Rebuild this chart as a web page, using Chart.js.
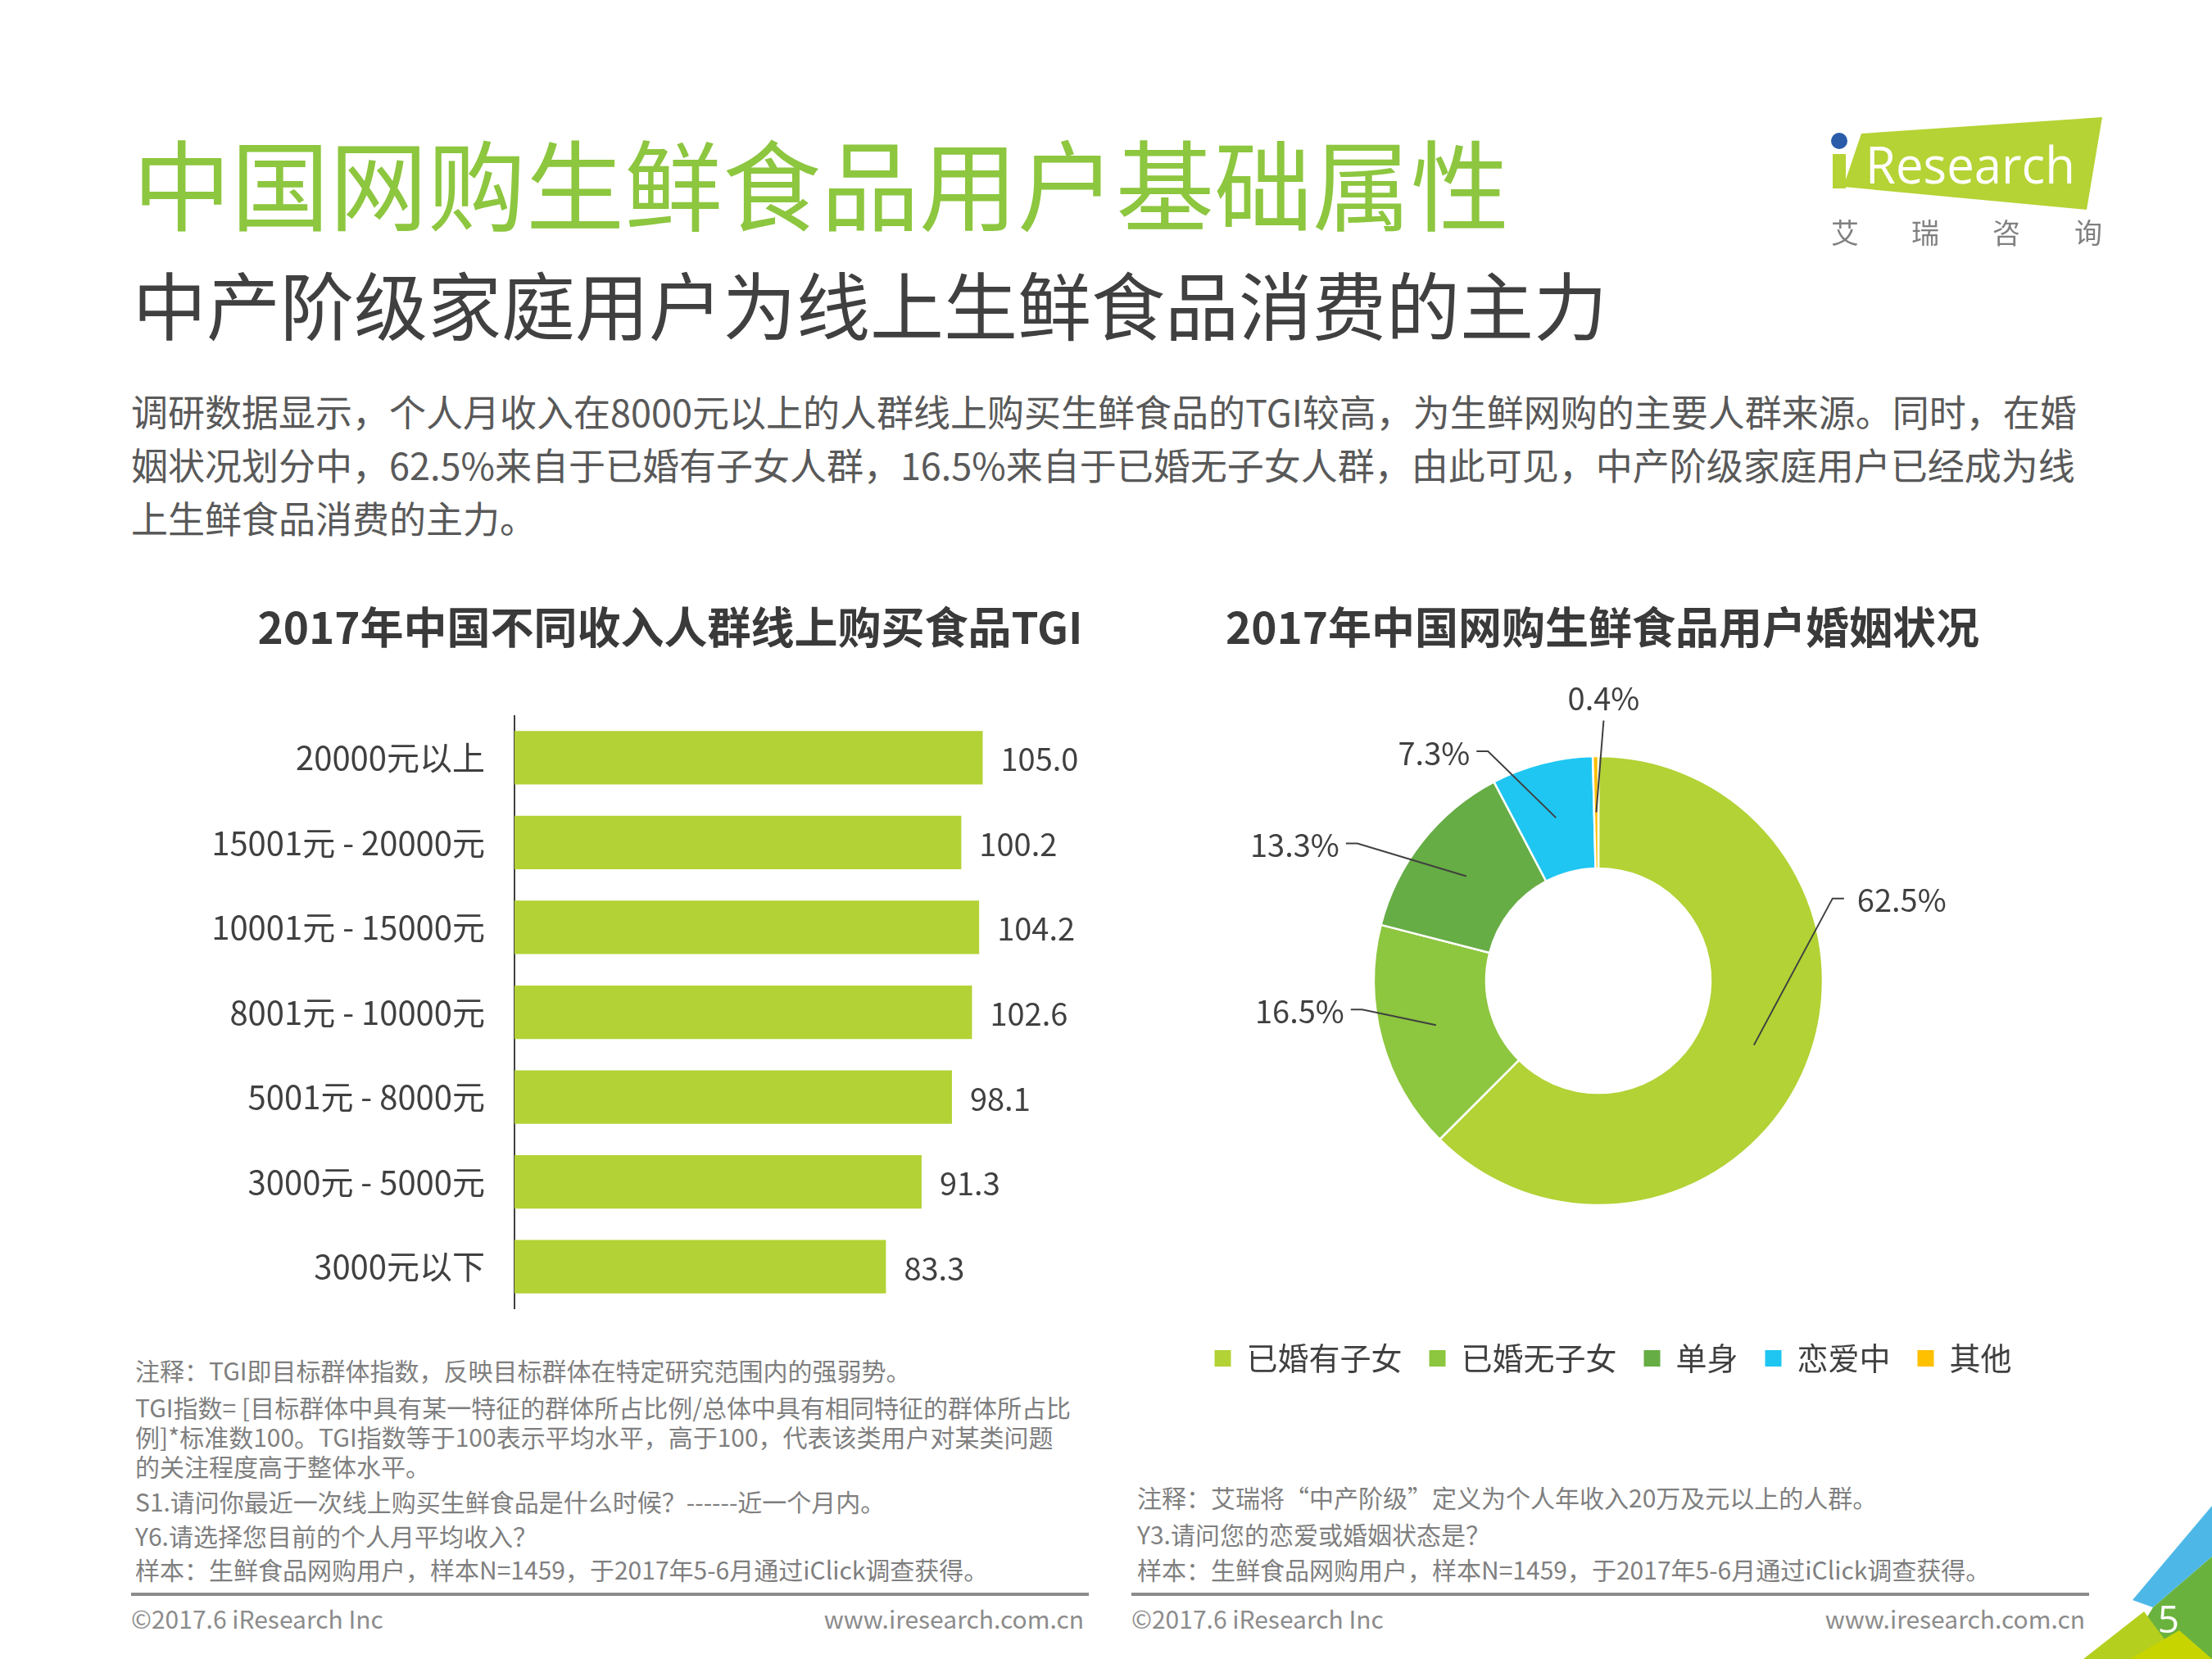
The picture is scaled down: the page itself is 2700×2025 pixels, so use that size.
<!DOCTYPE html>
<html lang="zh-CN">
<head>
<meta charset="utf-8">
<title>中国网购生鲜食品用户基础属性</title>
<script src="https://cdn.jsdelivr.net/npm/chart.js@4.4.1/dist/chart.umd.min.js"></script>
<style>
  html, body { margin: 0; padding: 0; background: #fff; }
  body { width: 2700px; height: 2025px; position: relative; overflow: hidden;
         font-family: "Noto Sans CJK SC", "Noto Sans", sans-serif; }
  .t { position: absolute; white-space: nowrap; line-height: 1; }
  #title { left: 162px; top: 161px; font-size: 120px; color: #8DC63F; }
  #subtitle { left: 162px; top: 324px; font-size: 90px; color: #404040; }
  #intro { position: absolute; left: 160px; top: 469px; font-size: 45px; line-height: 65px; color: #595959; white-space: nowrap; }
  .ctitle { position: absolute; top: 737px; width: 1200px; text-align: center; font-size: 53px; font-weight: bold; color: #3a3a3a; line-height: 1; white-space: nowrap; }
  .note { position: absolute; font-size: 30px; color: #7f7f7f; white-space: nowrap; line-height: 1; }
  .rule { position: absolute; top: 1944px; height: 4px; background: #8c8c8c; }
  canvas { position: absolute; }
  #deco { position: absolute; left: 0; top: 0; pointer-events: none; }
</style>
</head>
<body>

<div class="t" id="title">中国网购生鲜食品用户基础属性</div>
<div class="t" id="subtitle">中产阶级家庭用户为线上生鲜食品消费的主力</div>
<div id="intro">调研数据显示，个人月收入在8000元以上的人群线上购买生鲜食品的TGI较高，为生鲜网购的主要人群来源。同时，在婚<br>姻状况划分中，62.5%来自于已婚有子女人群，16.5%来自于已婚无子女人群，由此可见，中产阶级家庭用户已经成为线<br>上生鲜食品消费的主力。</div>

<div class="ctitle" style="left:218px">2017年中国不同收入人群线上购买食品TGI</div>
<div class="ctitle" style="left:1356px">2017年中国网购生鲜食品用户婚姻状况</div>

<canvas id="tgiChart" width="1240" height="725" style="left:150px; top:873px"></canvas>
<canvas id="maritalChart" width="1300" height="899" style="left:1301px; top:788px"></canvas>

<div class="note" style="left:165px; top:1657px">注释：TGI即目标群体指数，反映目标群体在特定研究范围内的强弱势。</div>
<div class="note" style="left:165px; top:1702px">TGI指数= [目标群体中具有某一特征的群体所占比例/总体中具有相同特征的群体所占比</div>
<div class="note" style="left:165px; top:1738px">例]*标准数100。TGI指数等于100表示平均水平，高于100，代表该类用户对某类问题</div>
<div class="note" style="left:165px; top:1774px">的关注程度高于整体水平。</div>
<div class="note" style="left:165px; top:1817px">S1.请问你最近一次线上购买生鲜食品是什么时候？------近一个月内。</div>
<div class="note" style="left:165px; top:1859px">Y6.请选择您目前的个人月平均收入？</div>
<div class="note" style="left:165px; top:1900px">样本：生鲜食品网购用户，样本N=1459，于2017年5-6月通过iClick调查获得。</div>

<div class="note" style="left:1388px; top:1812px">注释：艾瑞将“中产阶级”定义为个人年收入20万及元以上的人群。</div>
<div class="note" style="left:1388px; top:1857px">Y3.请问您的恋爱或婚姻状态是？</div>
<div class="note" style="left:1388px; top:1900px">样本：生鲜食品网购用户，样本N=1459，于2017年5-6月通过iClick调查获得。</div>

<div class="rule" style="left:160px; width:1169px"></div>
<div class="rule" style="left:1381px; width:1169px"></div>

<div class="note" style="left:160px; top:1960px; color:#8c8c8c">©2017.6 iResearch Inc</div>
<div class="note" style="left:823px; top:1960px; width:500px; text-align:right; color:#8c8c8c">www.iresearch.com.cn</div>
<div class="note" style="left:1381px; top:1960px; color:#8c8c8c">©2017.6 iResearch Inc</div>
<div class="note" style="left:2045px; top:1960px; width:500px; text-align:right; color:#8c8c8c">www.iresearch.com.cn</div>

<svg id="deco" width="2700" height="2025">
  <!-- logo -->
  <polygon points="2272,163 2566,143 2547,256 2250,228" fill="#B5D334"/>
  <rect x="2237" y="188" width="16" height="42" fill="#B5D334"/>
  <circle cx="2245" cy="172" r="10" fill="#2A5CAA"/>
  <text x="2277" y="224" font-family="Open Sans, Noto Sans, sans-serif" font-size="62" fill="#fff" textLength="256" lengthAdjust="spacingAndGlyphs">Research</text>
  <g font-family="Noto Sans CJK SC, sans-serif" font-size="34" fill="#808080" text-anchor="middle">
    <text x="2252" y="297">艾</text>
    <text x="2350" y="297">瑞</text>
    <text x="2449" y="297">咨</text>
    <text x="2549" y="297">询</text>
  </g>
  <!-- page corner -->
  <polygon points="2700,1838 2700,1900 2628,1962 2603,1953" fill="#4DB8E8"/>
  <polygon points="2700,1900 2700,2025 2590,2025 2628,1962" fill="#6AB23E"/>
  <polygon points="2543,2025 2617,1967 2660,2025" fill="#B5CF1E"/>
  <polygon points="2600,2025 2660,1990 2700,2025" fill="#C8D400"/>
  <text x="2647" y="1993" font-family="Open Sans, Noto Sans, sans-serif" font-size="46" fill="#fff" text-anchor="middle">5</text>
</svg>

<script>
// income groups (top to bottom) and their TGI
const incomeLabels = ['20000元以上', '15001元 - 20000元', '10001元 - 15000元', '8001元 - 10000元', '5001元 - 8000元', '3000元 - 5000元', '3000元以下'];
const tgiValues = [105.0, 100.2, 104.2, 102.6, 98.1, 91.3, 83.3];

// marital status shares (%)
const maritalLabels = ['已婚有子女', '已婚无子女', '单身', '恋爱中', '其他'];
const maritalShares = [62.5, 16.5, 13.3, 7.3, 0.4];
const maritalColors = ['#B2D235', '#8DC63F', '#66AD45', '#1FC6F2', '#FFC000'];

const FONT = '"Noto Sans CJK SC", "Noto Sans", sans-serif';
const TEXT = '#404040';
Chart.defaults.font.family = FONT;

// value labels at the end of each bar
const barValues = {
    id: 'barValues',
    afterDatasetsDraw(chart) {
        const ctx = chart.ctx;
        const meta = chart.getDatasetMeta(0);
        ctx.save();
        ctx.font = '38px ' + FONT;
        ctx.fillStyle = TEXT;
        ctx.textAlign = 'left';
        ctx.textBaseline = 'middle';
        meta.data.forEach((bar, i) => {
            ctx.fillText(tgiValues[i].toFixed(1), bar.x + 22, bar.y + 2);
        });
        ctx.restore();
    }
};

new Chart(document.getElementById('tgiChart'), {
    type: 'bar',
    data: {
        labels: incomeLabels,
        datasets: [{
            data: tgiValues,
            backgroundColor: '#B2D235',
            categoryPercentage: 1,
            barPercentage: 0.63
        }]
    },
    options: {
        indexAxis: 'y',
        responsive: false,
        animation: false,
        layout: { padding: 0, autoPadding: false },
        plugins: { legend: { display: false }, tooltip: { enabled: false } },
        scales: {
            x: { display: false, min: 0, max: 140 },
            y: {
                grid: { display: false, drawTicks: false },
                border: { display: true, color: TEXT, width: 2 },
                ticks: { color: TEXT, font: { size: 40 }, padding: 36 },
                afterFit(scale) {
                    scale.width = 478;
                    scale.paddingTop = 0;
                    scale.paddingBottom = 0;
                }
            }
        }
    },
    plugins: [barValues]
});

// leader lines: elbow offset from the slice anchor, and which side the label sits
const labelOffsets = [[96, -179], [-90, -19], [-133, -40], [-83, -81], [9, -112]];
const labelSide = [1, -1, -1, -1, 0];

const leaderLabels = {
    id: 'leaderLabels',
    afterLayout(chart) {
        // legend sits a little right of the ring's centre in the original
        chart.legend.left += 18;
        chart.legend.right += 18;
    },
    afterDatasetsDraw(chart) {
        const ctx = chart.ctx;
        const meta = chart.getDatasetMeta(0);
        ctx.save();
        ctx.strokeStyle = TEXT;
        ctx.lineWidth = 2;
        ctx.fillStyle = TEXT;
        ctx.font = '38px ' + FONT;
        meta.data.forEach((arc, i) => {
            const p = arc.getProps(['x', 'y', 'startAngle', 'endAngle', 'innerRadius', 'outerRadius'], true);
            const mid = (p.startAngle + p.endAngle) / 2;
            const r = (p.innerRadius + p.outerRadius) / 2;
            const ax = p.x + Math.cos(mid) * r;
            const ay = p.y + Math.sin(mid) * r;
            const ex = ax + labelOffsets[i][0];
            const ey = ay + labelOffsets[i][1];
            const side = labelSide[i];
            ctx.beginPath();
            ctx.moveTo(ax, ay);
            ctx.lineTo(ex, ey);
            if (side) ctx.lineTo(ex + side * 14, ey);
            ctx.stroke();
            const txt = maritalShares[i].toFixed(1) + '%';
            if (side > 0) {
                ctx.textAlign = 'left';
                ctx.textBaseline = 'middle';
                ctx.fillText(txt, ex + 30, ey + 2);
            } else if (side < 0) {
                ctx.textAlign = 'right';
                ctx.textBaseline = 'middle';
                ctx.fillText(txt, ex - 22, ey + 2);
            } else {
                ctx.textAlign = 'center';
                ctx.textBaseline = 'bottom';
                ctx.fillText(txt, ex, ey - 8);
            }
        });
        ctx.restore();
    }
};

new Chart(document.getElementById('maritalChart'), {
    type: 'doughnut',
    data: {
        labels: maritalLabels,
        datasets: [{
            data: maritalShares,
            backgroundColor: maritalColors,
            borderColor: '#ffffff',
            borderWidth: 2.5
        }]
    },
    options: {
        responsive: false,
        animation: false,
        radius: 274,
        cutout: '50%',
        layout: { padding: 0 },
        plugins: {
            tooltip: { enabled: false },
            legend: {
                position: 'bottom',
                labels: {
                    boxWidth: 20,
                    boxHeight: 20,
                    padding: 33,
                    color: TEXT,
                    font: { size: 38 },
                    generateLabels(chart) {
                        const items = Chart.overrides.doughnut.plugins.legend.labels.generateLabels(chart);
                        items.forEach(it => { it.lineWidth = 0; it.strokeStyle = it.fillStyle; });
                        return items;
                    }
                }
            }
        }
    },
    plugins: [leaderLabels]
});
</script>
</body>
</html>
